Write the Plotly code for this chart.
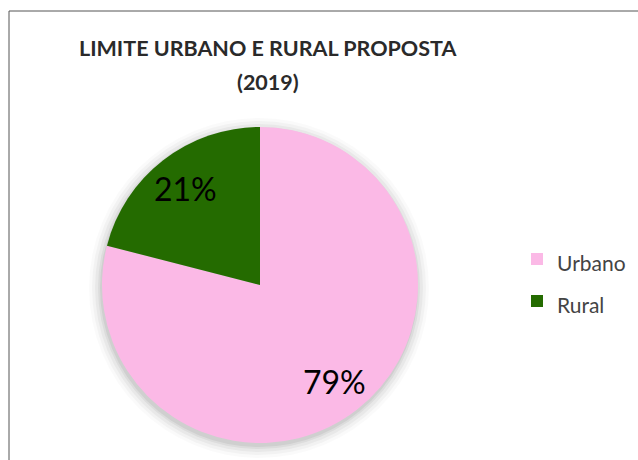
import math
import plotly.graph_objects as go

categories = ["Urbano", "Rural"]
values = [79, 21]
colors = ["#FBB9E6", "#246B00"]
title_lines = ["LIMITE URBANO E RURAL PROPOSTA", "(2019)"]

W, H = 638, 460
cx, cy, R = 260, 285, 158
FONT = "Lato, Open Sans, sans-serif"

fig = go.Figure()
fig.add_trace(go.Pie(
    labels=[f'<span style="font-size:21px">{c}</span>' for c in categories],
    values=values,
    marker=dict(colors=colors, line=dict(width=0)),
    sort=False,
    direction="clockwise",
    rotation=0,
    textinfo="none",
    domain=dict(x=[(cx - R) / W, (cx + R) / W], y=[1 - (cy + R) / H, 1 - (cy - R) / H]),
    hoverinfo="percent",
))

# percentage labels placed along each slice's bisector
total = sum(values)
annotations = []
cum = 0
for v in values:
    theta = 2 * math.pi * (cum + v / 2) / total
    cum += v
    r = 0.77 * R
    px = cx + r * math.sin(theta)
    py = cy - r * math.cos(theta)
    annotations.append(dict(text=f"{round(100 * v / total)}%", x=px / W, y=1 - py / H,
                            xref="paper", yref="paper", showarrow=False,
                            xanchor="center", yanchor="middle",
                            font=dict(family=FONT, size=32, color="#000000")))

# title, two lines
for line, ty in zip(title_lines, [48, 82]):
    annotations.append(dict(text=f"<b>{line}</b>", x=268 / W, y=1 - ty / H,
                            xref="paper", yref="paper", showarrow=False,
                            xanchor="center", yanchor="middle",
                            font=dict(family=FONT, size=21.5, color="#2a2a2a")))

# soft shadow around the pie
shapes = []
for pad, op in [(12, 0.02), (9, 0.03), (6, 0.04), (3, 0.05), (1, 0.06)]:
    shapes.append(dict(type="circle", xref="paper", yref="paper",
                       x0=(cx - R - pad - 1) / W, x1=(cx + R + pad - 1) / W,
                       y0=1 - (cy + R + pad + 3) / H, y1=1 - (cy - R - pad + 3) / H,
                       fillcolor=f"rgba(0,0,0,{op})", line=dict(width=0), layer="below"))
# chart frame
shapes.append(dict(type="rect", xref="paper", yref="paper",
                   x0=9 / W, x1=1.1, y0=-0.1, y1=1 - 11 / H,
                   line=dict(color="#555555", width=1), fillcolor="rgba(0,0,0,0)", layer="below"))

fig.update_layout(
    width=W, height=H,
    margin=dict(l=0, r=0, t=0, b=0),
    paper_bgcolor="white",
    plot_bgcolor="white",
    shapes=shapes,
    annotations=annotations,
    legend=dict(x=517 / W, xanchor="left", y=1 - 233 / H, yanchor="top",
                font=dict(family=FONT, size=30, color="#444444"),
                bgcolor="rgba(0,0,0,0)"),
)

fig.write_html("out.html")
